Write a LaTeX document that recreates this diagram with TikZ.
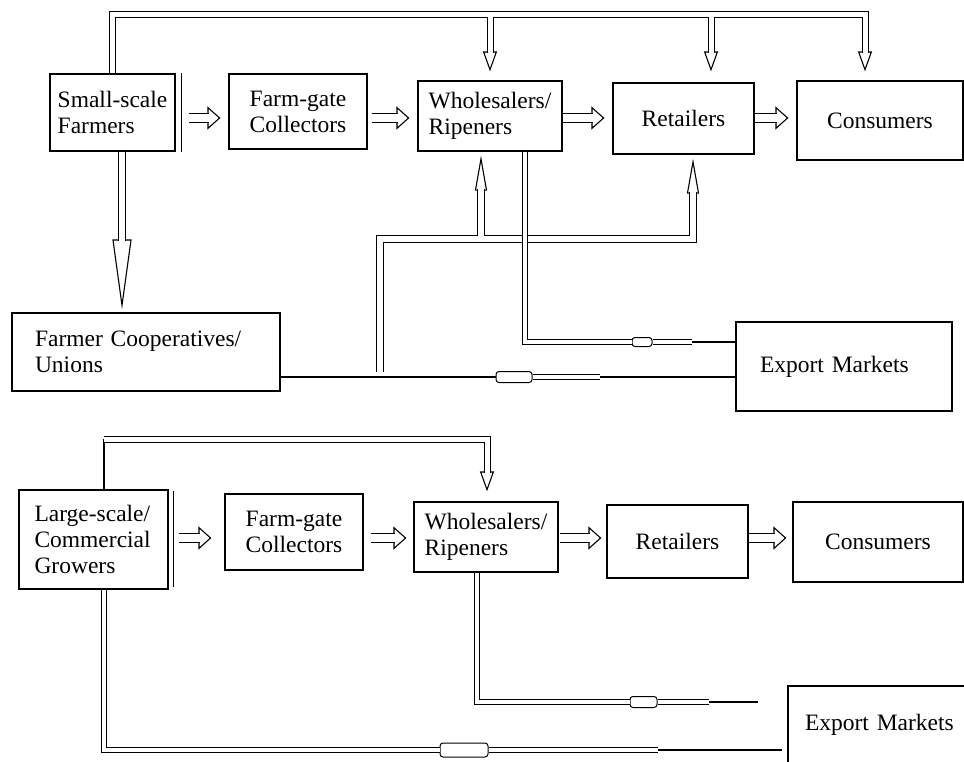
\documentclass[tikz,border=0pt]{standalone}
\usepackage{fontspec}
\setmainfont{Liberation Serif}
\usetikzlibrary{arrows.meta, calc}
% hollow block arrow: shaft style, head length, head width, shaft path, last corner, tip
\newcommand\hollowarrow[6]{%
  \draw[line width=1.1pt, -{Triangle[fill=white, length=#2, width=#3]}] (#5) -- (#6);
  \draw[#1] #4 -- ($(#6)!#2-1.5pt!(#5)$);}

\begin{document}
\begin{tikzpicture}[x=1pt, y=-1pt,
  font=\fontsize{23.5}{26}\selectfont,
  box/.style={draw, line width=1.2pt, inner sep=0pt, align=center},
  feed/.style={double, double distance=5pt, line width=1pt},
  feedthin/.style={double, double distance=3.5pt, line width=1pt},
  flow/.style={double, double distance=8.5pt, line width=1.1pt},
  longflow/.style={double, double distance=6pt, line width=1.1pt},
  tapline/.style={double, double distance=5.5pt, line width=1pt},
  capsule/.style={draw, fill=white, line width=1pt, rounded corners=3pt, inner sep=0pt}]

\useasboundingbox (0,0) rectangle (964,761);
\clip (0,0) rectangle (964,761);

% upper chain: small-scale farmers
\node[box, minimum width=125pt, minimum height=77pt, align=left] (small) at (112.5,112.5) {Small-scale\\Farmers};
\node[box, minimum width=138pt, minimum height=75pt] (farmA) at (298,111.5) {Farm-gate\\Collectors};
\node[box, minimum width=144pt, minimum height=70pt, align=left] (wholeA) at (490,116) {Wholesalers/\\Ripeners};
\node[box, minimum width=141pt, minimum height=71pt] (retailA) at (683.5,118.5) {Retailers};
\node[box, minimum width=166pt, minimum height=79pt] (consA) at (880,120.5) {Consumers};
\node[box, minimum width=268pt, minimum height=78pt, text width=222pt, align=left] (coop) at (146,352) {Farmer Cooperatives/\\Unions};
\node[box, minimum width=216pt, minimum height=89pt, text width=168pt, align=left] (exportA) at (844,366.5) {Export Markets};
\draw[line width=1.2pt] ([xshift=6pt]small.north east) -- ([xshift=6pt]small.south east);

% lower chain: large-scale growers
\node[box, minimum width=149pt, minimum height=99pt, text width=118pt, align=left] (large) at (93.5,539.5) {Large-scale/\\Commercial\\Growers};
\node[box, minimum width=138pt, minimum height=76pt] (farmB) at (294,532) {Farm-gate\\Collectors};
\node[box, minimum width=144pt, minimum height=70pt, align=left] (wholeB) at (486,537) {Wholesalers/\\Ripeners};
\node[box, minimum width=141pt, minimum height=73pt] (retailB) at (677.5,541.5) {Retailers};
\node[box, minimum width=170pt, minimum height=80pt] (consB) at (878,542) {Consumers};
\node[box, minimum width=184pt, minimum height=78pt, text width=150pt, align=left] (exportB) at (880,725) {Export Markets};
\draw[line width=1.2pt] ([xshift=5pt,yshift=-2pt]large.north east) -- ([xshift=5pt,yshift=3pt]large.south east);

\coordinate (rowA) at (0,118);
\coordinate (rowB) at (0,538);

% upper chain flows
\coordinate (a1s) at ($(small.east |- rowA)+(13,0)$);
\coordinate (a1t) at ($(farmA.west |- rowA)+(-8,0)$);
\coordinate (a2s) at ($(farmA.east |- rowA)+(4,0)$);
\coordinate (a2t) at ($(wholeA.west |- rowA)+(-8,0)$);
\coordinate (a3s) at (wholeA.east |- rowA);
\coordinate (a3t) at ($(retailA.west |- rowA)+(-8,0)$);
\coordinate (a4s) at (retailA.east |- rowA);
\coordinate (a4t) at ($(consA.west |- rowA)+(-8,0)$);
\hollowarrow{flow}{13pt}{23pt}{(a1s)}{a1s}{a1t}
\hollowarrow{flow}{13pt}{23pt}{(a2s)}{a2s}{a2t}
\hollowarrow{flow}{13pt}{23pt}{(a3s)}{a3s}{a3t}
\hollowarrow{flow}{13pt}{23pt}{(a4s)}{a4s}{a4t}

% top feed line
\coordinate (feedA) at (865,14);
\coordinate (dropR) at (711,16.5);
\coordinate (dropW) at ($(wholeA.north |- feedA)+(0,2.5)$);
\coordinate (tCons) at ($(feedA |- consA.north)+(0,-9)$);
\coordinate (tRet) at ($(dropR |- retailA.north)+(0,-11)$);
\coordinate (tWh) at ($(wholeA.north)+(0,-9)$);
\hollowarrow{feed}{20pt}{14pt}{(small.north) |- (feedA)}{feedA}{tCons}
\hollowarrow{feed}{20pt}{14pt}{(dropR)}{dropR}{tRet}
\hollowarrow{feed}{20pt}{14pt}{(dropW)}{dropW}{tWh}

\coordinate (cTop) at ($(small.south)+(9.5,0)$);
\coordinate (tCoop) at ($(cTop |- coop.north)+(0,-3)$);
\hollowarrow{longflow}{70pt}{19pt}{(cTop)}{cTop}{tCoop}

% cooperatives feeding wholesalers and retailers
\coordinate (tapC) at (380,372);
\coordinate (tapR) at (693,239);
\coordinate (tapW) at (481,236);
\coordinate (tRetU) at ($(tapR |- retailA.south)+(0,4)$);
\coordinate (tWhU) at ($(tapW |- wholeA.south)+(0,4)$);
\hollowarrow{tapline}{35pt}{12pt}{(tapC) |- (tapR)}{tapR}{tRetU}
\hollowarrow{tapline}{35pt}{12pt}{(tapW)}{tapW}{tWhU}

% export links, upper chain
\node[capsule, minimum width=20pt, minimum height=9pt] (capA) at (642,342) {};
\coordinate (bendA) at (525,342);
\coordinate (endA) at (692,342);
\draw[feedthin] (bendA |- wholeA.south) -- (bendA) -- (capA.west);
\draw[feedthin] (capA.east) -- (endA);
\draw[line width=1.2pt] (endA) -- (endA -| exportA.west);

\node[capsule, minimum width=36pt, minimum height=11pt] (capC) at (514,377) {};
\coordinate (dblC) at (600,377);
\coordinate (thkC) at (665,377);
\draw[line width=1.2pt] (coop.east |- capC) -- (capC.west);
\draw[feedthin] (capC.east) -- (dblC);
\draw[line width=1.2pt] (dblC) -- (thkC);
\draw[line width=2.4pt] (thkC) -- (thkC -| exportA.west);

% lower chain flows
\coordinate (b1s) at ($(large.east |- rowB)+(10,0)$);
\coordinate (b1t) at ($(farmB.west |- rowB)+(-13,0)$);
\coordinate (b2s) at ($(farmB.east |- rowB)+(7,0)$);
\coordinate (b2t) at ($(wholeB.west |- rowB)+(-7,0)$);
\coordinate (b3s) at ($(wholeB.east |- rowB)+(1,0)$);
\coordinate (b3t) at ($(retailB.west |- rowB)+(-5,0)$);
\coordinate (b4s) at (retailB.east |- rowB);
\coordinate (b4t) at ($(consB.west |- rowB)+(-6,0)$);
\hollowarrow{flow}{13pt}{23pt}{(b1s)}{b1s}{b1t}
\hollowarrow{flow}{13pt}{23pt}{(b2s)}{b2s}{b2t}
\hollowarrow{flow}{13pt}{23pt}{(b3s)}{b3s}{b3t}
\hollowarrow{flow}{13pt}{23pt}{(b4s)}{b4s}{b4t}

\coordinate (feedB) at (487,439);
\coordinate (lgN) at ($(large.north)+(10.5,0)$);
\coordinate (tWhB) at ($(feedB |- wholeB.north)+(0,-10)$);
\draw[line width=1.2pt] (lgN) -- (lgN |- feedB);
\hollowarrow{feed}{20pt}{14pt}{(lgN |- feedB) -- (feedB)}{feedB}{tWhB}

% export links, lower chain
\node[capsule, minimum width=27pt, minimum height=11pt] (capB) at (643.5,702) {};
\coordinate (bendB) at (477,702);
\coordinate (dblB) at (709,702);
\coordinate (endB) at (758,702);
\draw[feedthin] (bendB |- wholeB.south) -- (bendB) -- (capB.west);
\draw[feedthin] (capB.east) -- (dblB);
\draw[line width=2.6pt] (dblB) -- (endB);

\node[capsule, minimum width=48pt, minimum height=14pt] (capL) at (464,750) {};
\coordinate (dblL) at (658,750);
\draw[feedthin] ([xshift=10.5pt]large.south) |- (capL.west);
\draw[feedthin] (capL.east) -- (dblL);
\draw[line width=1.2pt, shorten >=5pt] (dblL) -- (dblL -| exportB.west);
\end{tikzpicture}
\end{document}
